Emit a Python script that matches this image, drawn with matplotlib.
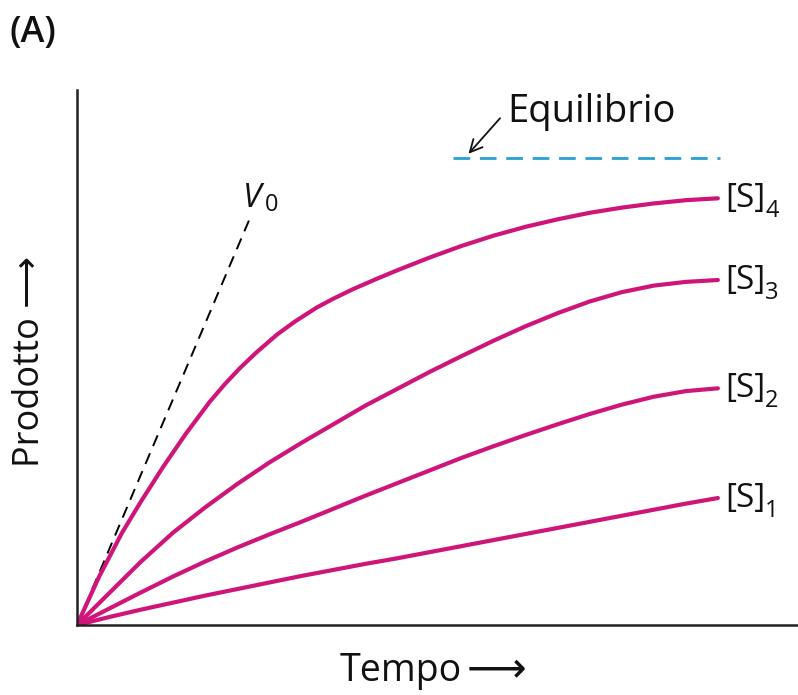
#Progress curves of product vs time at increasing substrate concentration
import numpy as np
import matplotlib.pyplot as plt

plt.rcParams['font.family'] = ['Open Sans', 'DejaVu Sans']

#Data (time, product in arbitrary units)
TempoS4 = [0, 0.35, 0.7, 1.0, 1.34, 1.7, 2.07, 2.3, 2.54, 2.8, 3.12, 3.4, 3.74, 4.0, 4.3, 4.65, 5.0, 5.5, 6.0, 6.5, 7.0, 7.5, 8.0, 8.5, 9.0, 9.5, 10]
S4 = [0, 1.05, 1.97, 2.65, 3.38, 4.10, 4.78, 5.15, 5.50, 5.84, 6.22, 6.50, 6.80, 6.99, 7.19, 7.40, 7.60, 7.87, 8.12, 8.34, 8.53, 8.69, 8.83, 8.94, 9.03, 9.10, 9.14]
Tempo = [0, 0.5, 1, 1.5, 2, 2.5, 3, 3.5, 4, 4.5, 5, 5.5, 6, 6.5, 7, 7.5, 8, 8.5, 9, 9.5, 10]
S3 = [0, 0.68, 1.36, 1.98, 2.52, 3.02, 3.48, 3.90, 4.30, 4.70, 5.06, 5.42, 5.76, 6.09, 6.40, 6.68, 6.93, 7.13, 7.27, 7.35, 7.39]
S2 = [0, 0.35, 0.70, 1.04, 1.36, 1.66, 1.94, 2.21, 2.49, 2.77, 3.04, 3.31, 3.58, 3.83, 4.07, 4.30, 4.52, 4.72, 4.89, 5.01, 5.07]
S1 = [0, 0.17, 0.33, 0.48, 0.63, 0.77, 0.91, 1.05, 1.18, 1.31, 1.43, 1.56, 1.69, 1.82, 1.95, 2.08, 2.21, 2.34, 2.47, 2.60, 2.72]
Subscripts = ['4', '3', '2', '1']

V0x = [0, 2.70]
V0y = [0, 8.72]
EquilibrioX = [5.87, 10.03]
EquilibrioY = 10.0

Pink = '#d0157a'
Ink = '#111111'

fig = plt.figure(figsize=(7.98, 6.95), dpi=100)
ax = fig.add_axes([0.0965, 0.1007, 0.9035, 0.7698])

ax.plot(V0x, V0y, color='black', linewidth=1.4, dashes=(6, 4))
ax.plot(EquilibrioX, [EquilibrioY, EquilibrioY], color='#2a9fd0', linewidth=2, dashes=(6, 3.5))

for xs, ys in [(TempoS4, S4), (Tempo, S3), (Tempo, S2), (Tempo, S1)]:
    ax.plot(xs, ys, color=Pink, linewidth=3, solid_capstyle='round', solid_joinstyle='round')

ends = [S4[-1], S3[-1], S2[-1], S1[-1]]
for sub, yv in zip(Subscripts, ends):
    ax.text(10.12, yv, '[S]', fontsize=24, ha='left', va='center', color=Ink)
    ax.annotate(sub, xy=(10.12, yv), xytext=(28.5, -9), textcoords='offset points',
                fontsize=17, ha='left', va='center', color=Ink)

ax.text(2.59, 8.78, 'V', fontsize=24, style='italic', ha='left', va='bottom', color=Ink)
ax.annotate('0', xy=(2.59, 8.78), xytext=(16, -1), textcoords='offset points',
            fontsize=17, ha='left', va='bottom', color=Ink)

ax.annotate('', xy=(6.08, 10.05), xytext=(6.63, 10.9),
            arrowprops=dict(arrowstyle='->', color=Ink, lw=1.3, mutation_scale=22))
ax.text(6.72, 10.98, 'Equilibrio', fontsize=27.5, ha='left', va='center', color=Ink)

ax.set_xlim(0, 11.25)
ax.set_ylim(0, 11.46)
ax.set_xticks([])
ax.set_yticks([])
ax.spines['top'].set_visible(False)
ax.spines['right'].set_visible(False)
ax.spines['left'].set_linewidth(1.8)
ax.spines['bottom'].set_linewidth(1.8)
ax.spines['left'].set_color('#222222')
ax.spines['bottom'].set_color('#222222')

fig.text(0.426, 0.035, 'Tempo', fontsize=27, ha='left', va='center', color=Ink)
fig.text(0.585, 0.037, '\u27f6', fontsize=30, ha='left', va='center', color=Ink, family='DejaVu Sans')
fig.text(0.038, 0.48, 'Prodotto \u27f6', fontsize=26, ha='center', va='center', rotation=90, color=Ink)
fig.text(0.012, 0.953, '(A)', fontsize=26, ha='left', va='center', fontweight='semibold', color=Ink)

plt.savefig('out.png', dpi=100)
plt.close()
